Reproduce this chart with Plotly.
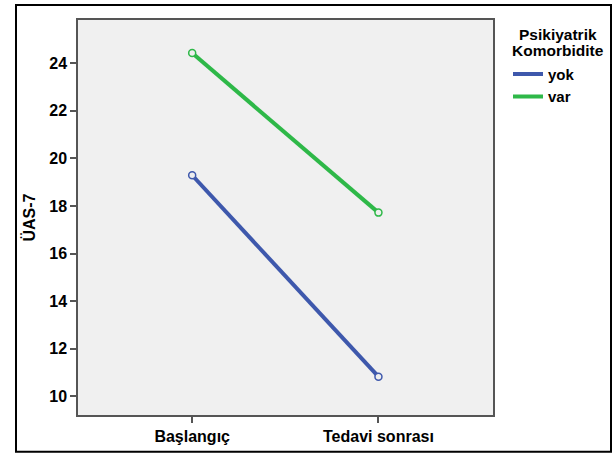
import plotly.graph_objects as go

categories = ["Başlangıç", "Tedavi sonrası"]
series_names = ["yok", "var"]
yok_values = [19.29, 10.83]
var_values = [24.42, 17.72]
colors = ["#3E58AC", "#2EB848"]
y_ticks = [10, 12, 14, 16, 18, 20, 22, 24]
legend_title_lines = ["Psikiyatrik", "Komorbidite"]

W, H = 614, 457
L, R, T, B = 78, 121, 20, 40
pw, ph = W - L - R, H - T - B

FONT = "Liberation Sans, Arial, sans-serif"
FS = 16

def px_x(px):
    return (px - L) / pw

def px_y(py):
    return (H - B - py) / ph

fig = go.Figure()
for name, vals, col in zip(series_names, [yok_values, var_values], colors):
    fig.add_trace(go.Scatter(
        x=[0, 1], y=vals, name=name, mode="lines+markers", showlegend=False,
        line=dict(color=col, width=4),
        marker=dict(symbol="circle", size=7, color="#eeeeee",
                    line=dict(color=col, width=1.5)),
    ))
# legend entries (line only)
for name, col in zip(series_names, colors):
    fig.add_trace(go.Scatter(
        x=[None], y=[None], name=name, mode="lines",
        line=dict(color=col, width=4), showlegend=True,
    ))

fig.add_shape(type="rect", xref="paper", yref="paper",
              x0=px_x(16), x1=px_x(611), y0=px_y(454), y1=px_y(5),
              line=dict(color="black", width=2), fillcolor="rgba(0,0,0,0)",
              layer="below")

for line_text, ypx in zip(legend_title_lines, [35, 51]):
    fig.add_annotation(
        text=line_text, xref="paper", yref="paper",
        x=px_x(558), y=px_y(ypx), xanchor="center", yanchor="middle",
        showarrow=False,
        font=dict(family=FONT, size=FS - 0.5, weight="bold", color="black"),
    )

fig.update_layout(
    width=W, height=H,
    margin=dict(l=L, r=R, t=T, b=B),
    paper_bgcolor="white", plot_bgcolor="#f0f0f0",
    font=dict(family=FONT, size=FS, color="black", weight="bold"),
    showlegend=True,
    legend=dict(
        x=px_x(508), y=px_y(58), xanchor="left", yanchor="top",
        bgcolor="rgba(0,0,0,0)",
        font=dict(family=FONT, size=15, weight="bold"),
        itemwidth=30, tracegroupgap=0,
    ),
    xaxis=dict(
        range=[-0.613, 1.615], tickvals=[0, 1], ticktext=categories,
        showgrid=False, zeroline=False,
        showline=True, mirror=True, linecolor="#555555", linewidth=1.5,
        ticks="outside", ticklen=6, tickcolor="#555555", tickwidth=1.5,
        tickfont=dict(family=FONT, size=FS, weight="bold"),
    ),
    yaxis=dict(
        range=[9.22, 25.81], tickvals=y_ticks,
        showgrid=False, zeroline=False,
        showline=True, mirror=True, linecolor="#555555", linewidth=1.5,
        ticks="outside", ticklen=6, tickcolor="#555555", tickwidth=1.5,
        tickfont=dict(family=FONT, size=FS, weight="bold"),
        title=dict(text="ÜAS-7", standoff=10,
                   font=dict(family=FONT, size=FS, weight="bold")),
    ),
)

fig.write_html("out.html",
               config={"displayModeBar": False},
               post_script="document.body.style.margin='0';document.body.style.padding='0';")
